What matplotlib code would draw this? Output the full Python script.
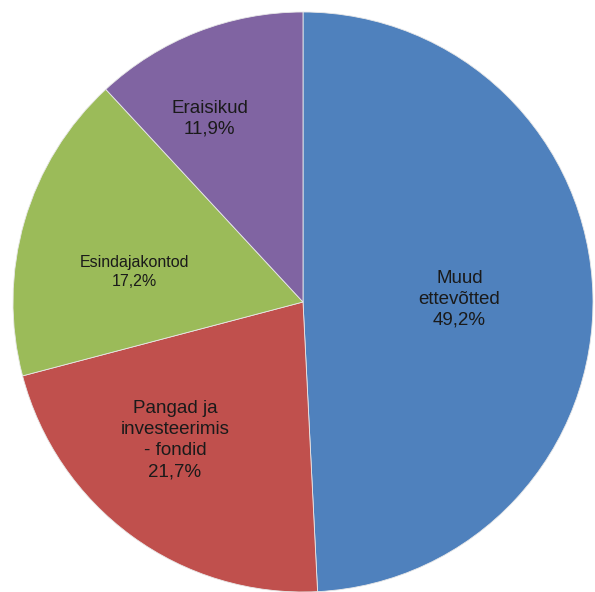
import matplotlib
matplotlib.use("Agg")
import matplotlib.pyplot as plt
import numpy as np

categories = ["Muud\nettevõtted", "Pangad ja\ninvesteerimis\n- fondid", "Esindajakontod", "Eraisikud"]
values = [49.2, 21.7, 17.2, 11.9]
pct_labels = ["49,2%", "21,7%", "17,2%", "11,9%"]
colors = ["#4F81BD", "#C0504D", "#9BBB59", "#8064A2"]

W, H = 595, 592
cx, cy, R = 303, 302, 290
fig = plt.figure(figsize=(W / 100, H / 100), dpi=100)
ax = fig.add_axes([0, 0, 1, 1])

wedges, _ = ax.pie(values, colors=colors, startangle=90, counterclock=False,
                   radius=1.0, wedgeprops=dict(edgecolor="#e8e8e8", linewidth=0.6))
ax.set_xlim(-cx / R, (W - cx) / R)
ax.set_ylim((cy - H) / R, cy / R)
ax.set_aspect("equal")
ax.axis("off")

# label placement (fraction of radius, angle in degrees)
label_r = [0.54, 0.65, 0.59, 0.71]
label_ang = [1.0, -132.8, 170.0, 117.0]
sizes = [13.5, 13.5, 11.5, 13.5]
for name, pct, r, a, s in zip(categories, pct_labels, label_r, label_ang, sizes):
    x = r * np.cos(np.radians(a))
    y = r * np.sin(np.radians(a))
    ax.text(x, y, f"{name}\n{pct}", ha="center", va="center", fontsize=s,
            family="Liberation Sans", linespacing=1.3, color="#1a1a1a")

fig.savefig("out.png", dpi=100)
